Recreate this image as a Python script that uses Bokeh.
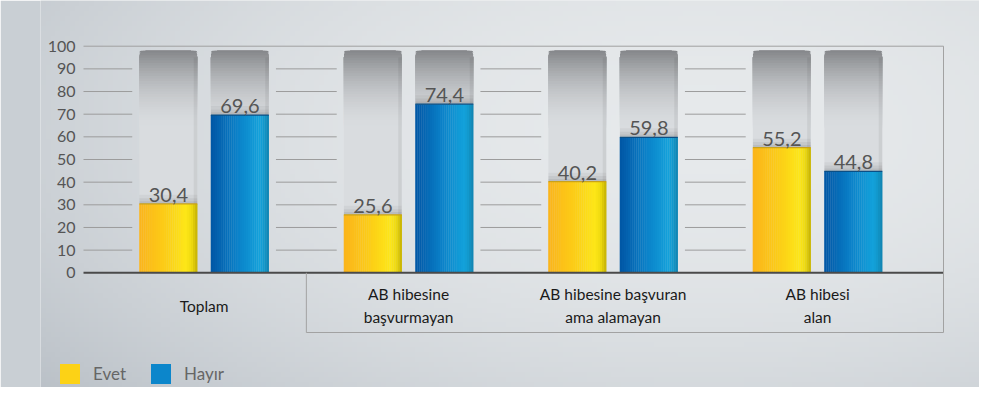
import numpy as np
from bokeh.plotting import figure
from bokeh.models import Range1d, ColumnDataSource, FixedTicker, Legend, LegendItem
from bokeh.transform import dodge
from bokeh.core.properties import value
from bokeh.embed import file_html
from bokeh.resources import INLINE

# ---------------- data ----------------
categories = ["Toplam", "AB hibesine başvurmayan",
              "AB hibesine başvuran ama alamayan", "AB hibesi alan"]
category_labels = ["Toplam", "AB hibesine\nbaşvurmayan",
                   "AB hibesine başvuran\nama alamayan", "AB hibesi\nalan"]
series = ["Evet", "Hayır"]
evet = [30.4, 25.6, 40.2, 55.2]
hayir = [69.6, 74.4, 59.8, 44.8]
y_ticks = [0, 10, 20, 30, 40, 50, 60, 70, 80, 90, 100]

# ---------------- layout / style ----------------
W, H = 979, 387
FONT = "Lato"
FRAME_LEFT = 40                 # px, left panel reserved for the y axis
PXU = 71.5                      # px per x unit
PYU = 2.266                     # px per y unit
GSPACE, BSPACE, BAR_W = 2.86, 1.0, 0.81
X_START = -(203.6 - FRAME_LEFT) / PXU
X_END = X_START + (W - FRAME_LEFT) / PXU
RIGHT_X = X_START + (943 - FRAME_LEFT) / PXU
AXIS_X = X_START + (83 - FRAME_LEFT) / PXU
Y_END = 100 + 45.7 / PYU
Y_START = Y_END - H / PYU
BOX_Y = -26.35
TRACK_TOP = 98.0
N_STRIPS = 28
GRID_GAP = 0.1

grad_stops = {
    "Evet": [(0.0, "#fbb41b"), (0.45, "#fccd16"), (0.8, "#fde618"),
             (0.9, "#f0dc10"), (1.0, "#c4b000")],
    "Hayır": [(0.0, "#0156a5"), (0.45, "#0a80c8"), (0.85, "#13a2db"),
              (0.93, "#1296c8"), (1.0, "#0f82b0")],
}
top_line_col = {"Evet": "#c9a21a", "Hayır": "#0b4f85"}


def hex2rgb(h):
    return [int(h[i:i + 2], 16) for i in (1, 3, 5)]


def interp_colors(stops, n):
    ts = (np.arange(n) + 0.5) / n
    pos = [s[0] for s in stops]
    rgb = np.array([hex2rgb(s[1]) for s in stops], dtype=float)
    out = []
    for t in ts:
        c = [int(round(np.interp(t, pos, rgb[:, k]))) for k in range(3)]
        out.append("#%02x%02x%02x" % tuple(c))
    return out


def mix(c1, c2, t):
    a, b = hex2rgb(c1), hex2rgb(c2)
    return "#%02x%02x%02x" % tuple(int(round(a[i] + (b[i] - a[i]) * t)) for i in range(3))


# positions from indices
group_x = np.arange(len(categories)) * GSPACE
bar_x = [float(g + (j - 0.5) * BSPACE) for g in group_x for j in range(len(series))]
vals = []
for e, h in zip(evet, hayir):
    vals += [e, h]
ser_of = [s for c in categories for s in series]

data = dict(x=bar_x, top=vals,
            label=[("%.1f" % v).replace(".", ",") for v in vals])
strip_cols = {s: interp_colors(grad_stops[s], N_STRIPS) for s in series}
for k in range(N_STRIPS):
    data["c%d" % k] = [strip_cols[s][k] for s in ser_of]
src = ColumnDataSource(data)

p = figure(width=W, height=H, x_range=Range1d(X_START, X_END),
           y_range=Range1d(Y_START, Y_END), output_backend="svg",
           toolbar_location=None, x_axis_location=None,
           min_border_left=FRAME_LEFT, min_border_right=0, min_border_top=0,
           min_border_bottom=0)
p.border_fill_color = "#c9cfd4"
p.background_fill_color = "#dde1e4"
p.outline_line_color = None
p.xgrid.visible = False
p.ygrid.visible = False

# ---------------- background gradient ----------------
nx, ny = 196, 78
px_x = np.linspace(FRAME_LEFT, W, nx)
px_y = np.linspace(H, 0, ny)           # row 0 = bottom
XX, YY = np.meshgrid(px_x, px_y)
d2 = ((XX - 700) / 800) ** 2 + ((YY - 130) / 380) ** 2
d2 = np.clip(d2, 0, 1.5)
C = np.array([230, 233, 235], float)
E = np.array([192, 198, 204], float)
rgb = C[None, None, :] + (E - C)[None, None, :] * d2[..., None]
img = np.empty((ny, nx), dtype=np.uint32)
view = img.view(dtype=np.uint8).reshape((ny, nx, 4))
view[..., :3] = np.clip(np.round(rgb), 0, 255).astype(np.uint8)
view[..., 3] = 255
p.image_rgba(image=[img], x=X_START, y=Y_START, dw=X_END - X_START,
             dh=Y_END - Y_START, level="image")

ya = p.yaxis[0]
ya.fixed_location = AXIS_X
ya.ticker = FixedTicker(ticks=y_ticks)
ya.axis_line_color = None
ya.major_tick_line_color = None
ya.minor_tick_line_color = None
ya.major_label_standoff = 2
ya.major_label_text_font = FONT
ya.major_label_text_font_size = "16px"
ya.major_label_text_color = "#555555"

# ---------------- gridline segments between groups ----------------
half = BAR_W / 2 + GRID_GAP
gx0, gx1, gy = [], [], []
for t in y_ticks[1:-1]:
    gx0.append(AXIS_X)
    gx1.append(bar_x[0] - half)
    gy.append(t)
    for i in range(1, len(categories)):
        gx0.append(bar_x[2 * i - 1] + half)
        gx1.append(bar_x[2 * i] - half)
        gy.append(t)
p.segment(x0=gx0, x1=gx1, y0=gy, y1=gy, line_color="#9c9c9c", line_width=1)
p.segment(x0=[AXIS_X], x1=[RIGHT_X], y0=[y_ticks[-1]], y1=[y_ticks[-1]],
          line_color="#a0a0a0", line_width=1)

# ---------------- tracks ----------------
p.vbar(x="x", top=TRACK_TOP, bottom=0, width=BAR_W, source=src,
       fill_color="#d9dcdf", line_color=None, border_radius=(7, 7, 0, 0))
n_bands = 30
band_bottoms = np.linspace(64, TRACK_TOP - 0.8, n_bands)
for k, b in enumerate(band_bottoms):
    col = mix("#d9dcdf", "#86888b", ((k + 1) / n_bands) ** 1.8)
    p.vbar(x="x", top=TRACK_TOP, bottom=float(b), width=BAR_W, source=src,
           fill_color=col, line_color=None, border_radius=(7, 7, 0, 0))
p.vbar(x=dodge("x", BAR_W / 2 - 0.025), top=TRACK_TOP - 3, bottom=0, width=0.05,
       source=src, fill_color="black", fill_alpha=0.06, line_color=None)

# shadow above bar tops
src_sh = ColumnDataSource(dict(x=bar_x, b=vals,
                               t1=[v + 4.0 for v in vals],
                               t2=[v + 2.5 for v in vals],
                               t3=[v + 1.2 for v in vals]))
for tf, al in (("t1", 0.04), ("t2", 0.05), ("t3", 0.06)):
    p.vbar(x="x", bottom="b", top=tf, width=BAR_W, source=src_sh,
           fill_color="black", fill_alpha=al, line_color=None)

# ---------------- bars (horizontal gradient strips) ----------------
sw = BAR_W / N_STRIPS
strip_renderers = []
for k in range(N_STRIPS):
    off = -BAR_W / 2 + sw * (k + 0.5)
    r = p.vbar(x=dodge("x", off), top="top", bottom=0, width=sw * 1.15,
               source=src, fill_color="c%d" % k, line_color=None)
    strip_renderers.append(r)

p.segment(x0=[x - BAR_W / 2 for x in bar_x], x1=[x + BAR_W / 2 for x in bar_x],
          y0=vals, y1=vals, line_color=[top_line_col[s] for s in ser_of],
          line_width=1.2)

# value labels
p.text(x="x", y="top", text="label", source=src, text_align="center",
       text_baseline="alphabetic", y_offset=-9, text_font=value(FONT),
       text_font_size="20px", text_color="#555555")

# ---------------- axis line and category box ----------------
p.segment(x0=[AXIS_X], x1=[RIGHT_X], y0=[0], y1=[0],
          line_color="#4a4a4a", line_width=2)
box_left = (bar_x[1] + bar_x[2]) / 2
p.segment(x0=[box_left, box_left, RIGHT_X], x1=[box_left, RIGHT_X, RIGHT_X],
          y0=[0, BOX_Y, BOX_Y], y1=[BOX_Y, BOX_Y, y_ticks[-1]],
          line_color="#a2a2a2", line_width=1)

p.text(x=list(group_x), y=[-14.5] * len(categories), text=category_labels,
       text_align="center", text_baseline="middle", text_font=value(FONT),
       text_font_size="15.5px", text_color="#1a1a1a", text_line_height=1.25)

# ---------------- legend ----------------
mid = strip_renderers[N_STRIPS // 2]
items = [LegendItem(label=s, renderers=[mid], index=j) for j, s in enumerate(series)]
legend = Legend(items=items, orientation="horizontal", location=(57 - FRAME_LEFT, 1),
                glyph_width=25, glyph_height=25, label_standoff=11, spacing=22,
                padding=0, margin=0, border_line_color=None,
                background_fill_alpha=0, label_text_font=FONT,
                label_text_font_size="17px", label_text_color="#666666")
p.add_layout(legend)

open("out.html", "w").write(file_html(p, INLINE))
